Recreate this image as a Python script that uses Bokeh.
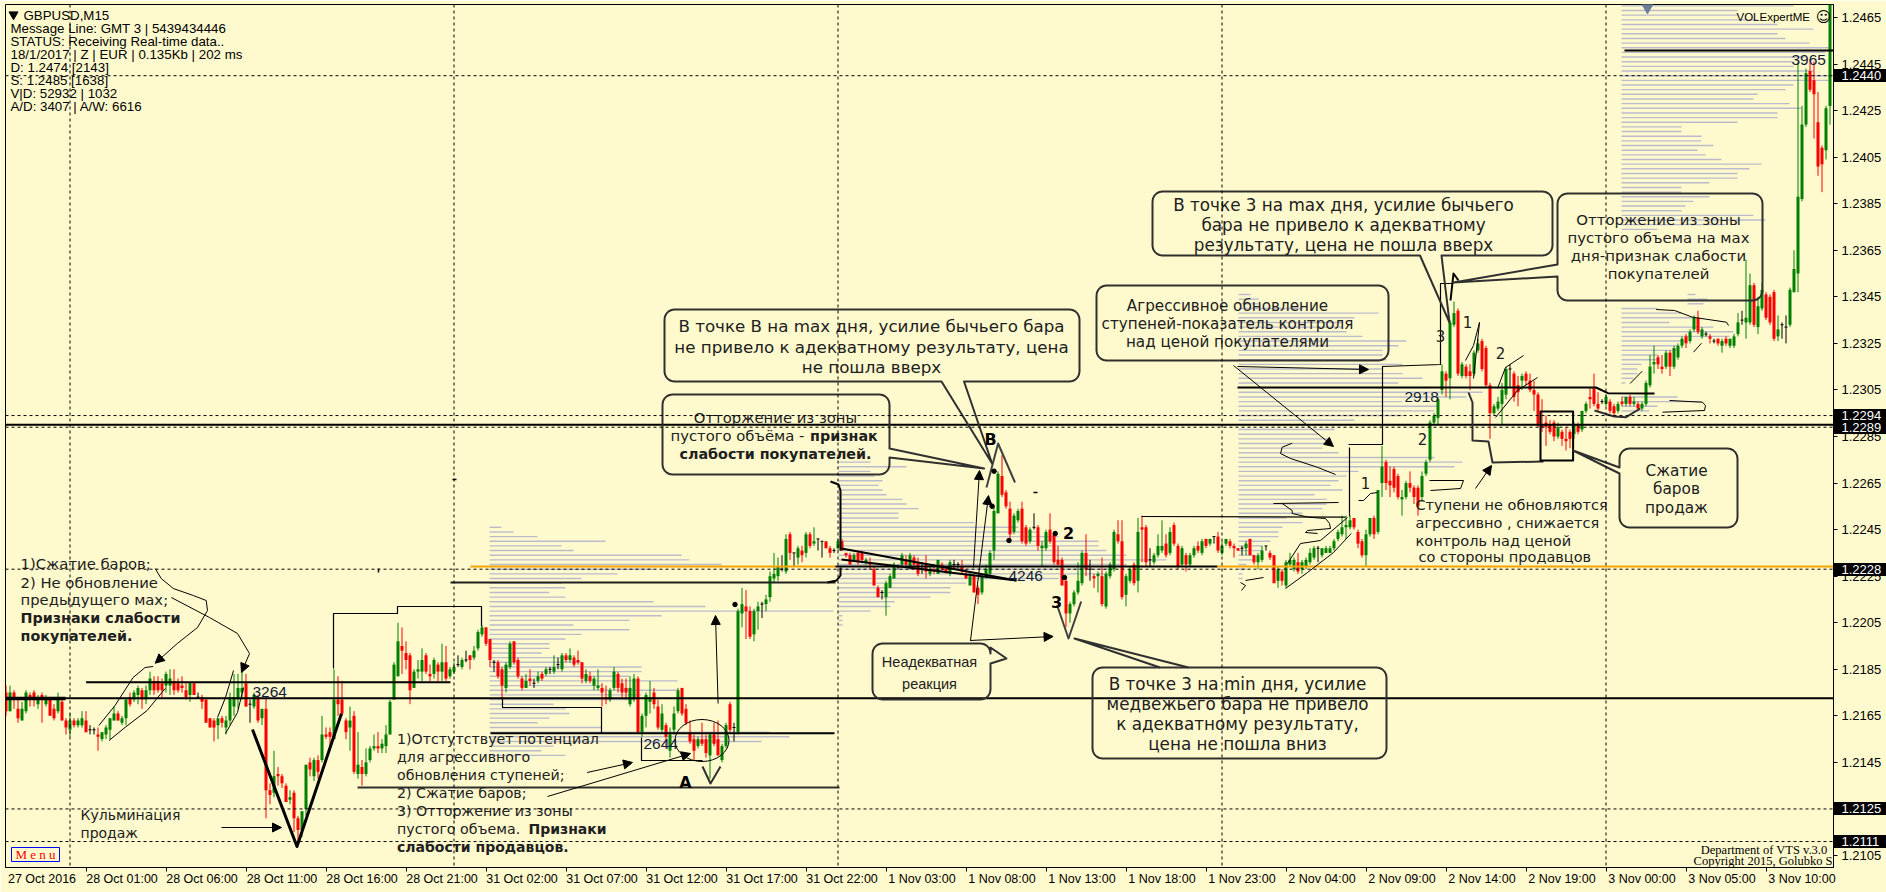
import math
from bokeh.plotting import figure
from bokeh.embed import file_html
from bokeh.resources import INLINE
from bokeh.core.properties import value
from bokeh.models import (Range1d, LinearAxis, FixedTicker, PrintfTickFormatter, Span,
                          Arrow, NormalHead)

# M15 bars, prices as 1/10000 above 1.0000 (2175 = 1.2175)
opens = [2175,2167,2175,2168,2163,2167,2174,2175,2170,2174,
2170,2172,2168,2167,2171,2163,2159,2163,2161,2161,
2163,2159,2159,2157,2155,2157,2159,2163,2166,2162,
2164,2173,2172,2174,2176,2172,2176,2180,2180,2179,
2178,2178,2180,2179,2178,2176,2174,2179,2173,2173,
2172,2164,2163,2161,2164,2160,2163,2169,2172,2175,
2179,2170,2169,2173,2164,2168,2133,2132,2140,2139,
2135,2129,2132,2121,2116,2125,2145,2139,2146,2146,
2157,2158,2155,2172,2172,2163,2160,2165,2140,2143,
2140,2146,2151,2152,2151,2152,2157,2172,2182,2195,
2192,2191,2177,2184,2184,2191,2183,2183,2187,2184,
2188,2182,2184,2187,2186,2189,2191,2190,2194,2200,
2203,2198,2188,2188,2185,2177,2186,2197,2189,2181,
2177,2181,2179,2180,2183,2183,2185,2184,2187,2185,
2191,2189,2190,2189,2188,2180,2182,2178,2177,2177,
2173,2172,2177,2183,2179,2177,2170,2172,2181,2158,
2165,2171,2175,2169,2159,2161,2150,2159,2167,2177,
2168,2158,2155,2152,2155,2155,2148,2157,2155,2146,
2152,2170,2160,2158,2209,2212,2210,2200,2210,2213,
2213,2216,2224,2225,2228,2227,2243,2235,2233,2236,
2235,2243,2239,2241,2240,2240,2237,2236,2237,2240,
2235,2234,2232,2235,2235,2231,2231,2228,2220,2218,
2216,2220,2224,2229,2230,2232,2229,2233,2231,2228,
2230,2226,2228,2226,2230,2228,2226,2230,2230,2229,
2226,2221,2225,2220,2218,2225,2226,2236,2252,2268,
2261,2254,2244,2249,2254,2246,2240,2246,2246,2237,
2237,2245,2243,2232,2232,2223,2209,2213,2218,2222,
2235,2228,2225,2225,2225,2212,2225,2228,2243,2240,
2217,2223,2230,2223,2246,2246,2232,2231,2234,2236,
2239,2235,2247,2238,2230,2234,2230,2234,2238,2235,
2241,2239,2242,2242,2235,2239,2240,2238,2237,2237,
2237,2241,2234,2231,2232,2238,2235,2234,2223,2227,
2221,2230,2228,2231,2228,2229,2231,2233,2237,2234,
2235,2235,2237,2241,2243,2246,2246,2250,2244,2240,
2234,2243,2250,2244,2265,2274,2266,2271,2268,2258,
2259,2265,2263,2263,2259,2269,2275,2291,2293,2305,
2312,2310,2333,2339,2311,2315,2313,2312,2322,2326,
2323,2307,2295,2297,2299,2303,2314,2312,2307,2309,
2312,2309,2305,2303,2290,2291,2290,2291,2285,2287,
2284,2287,2286,2290,2288,2296,2302,2306,2299,2300,
2299,2300,2298,2296,2300,2299,2302,2299,2299,2297,
2299,2307,2316,2319,2315,2315,2321,2315,2319,2324,
2328,2326,2331,2336,2328,2329,2328,2326,2327,2324,
2327,2324,2324,2329,2335,2334,2334,2350,2332,2340,
2346,2345,2347,2328,2333,2332,2333,2347,2355,2387,
2419,2442,2438,2420,2409,2408,2427]
highs = [2178,2178,2176,2172,2171,2176,2175,2176,2174,2175,
2174,2173,2170,2175,2172,2164,2166,2164,2164,2167,
2167,2161,2160,2160,2158,2161,2164,2169,2167,2165,
2172,2175,2176,2178,2177,2178,2184,2182,2182,2181,
2184,2185,2185,2181,2182,2179,2179,2179,2175,2174,
2172,2164,2164,2164,2165,2165,2175,2183,2183,2184,
2183,2172,2175,2174,2168,2173,2136,2150,2143,2140,
2136,2133,2133,2122,2124,2144,2147,2147,2148,2165,
2160,2160,2185,2182,2180,2164,2169,2167,2158,2146,
2151,2152,2157,2158,2155,2161,2172,2188,2205,2203,
2197,2192,2185,2189,2194,2192,2187,2190,2188,2196,
2195,2186,2188,2191,2190,2193,2191,2195,2202,2204,
2203,2198,2189,2189,2186,2188,2197,2197,2190,2182,
2183,2185,2181,2184,2184,2186,2186,2191,2190,2192,
2192,2194,2191,2193,2188,2185,2184,2182,2185,2179,
2178,2177,2186,2184,2181,2181,2182,2183,2182,2166,
2175,2180,2177,2172,2170,2162,2160,2169,2177,2177,
2170,2163,2157,2156,2162,2157,2158,2162,2163,2153,
2162,2171,2162,2211,2220,2219,2212,2211,2214,2214,
2217,2227,2235,2233,2234,2243,2244,2235,2238,2238,
2244,2244,2246,2241,2240,2240,2238,2237,2241,2241,
2235,2235,2235,2236,2236,2233,2233,2229,2221,2219,
2223,2226,2231,2230,2235,2234,2235,2234,2233,2231,
2234,2230,2230,2232,2231,2229,2232,2232,2231,2232,
2228,2227,2226,2221,2226,2230,2236,2255,2270,2277,
2262,2257,2252,2254,2257,2247,2246,2252,2247,2240,
2245,2252,2244,2238,2233,2224,2214,2219,2231,2236,
2243,2232,2226,2227,2233,2227,2231,2245,2249,2249,
2226,2229,2231,2250,2251,2247,2237,2235,2243,2249,
2243,2246,2248,2239,2238,2235,2235,2238,2240,2241,
2241,2241,2242,2244,2240,2241,2241,2239,2237,2238,
2240,2241,2234,2235,2238,2238,2236,2234,2229,2228,
2232,2235,2233,2235,2232,2233,2237,2238,2238,2237,
2238,2238,2241,2245,2251,2251,2251,2250,2245,2241,
2245,2250,2251,2262,2281,2275,2272,2272,2269,2262,
2266,2270,2264,2264,2270,2275,2292,2295,2302,2316,
2313,2335,2343,2340,2317,2316,2316,2322,2327,2327,
2324,2308,2299,2302,2308,2315,2316,2313,2311,2312,
2313,2312,2309,2304,2301,2294,2292,2292,2291,2288,
2289,2288,2291,2291,2296,2300,2306,2312,2304,2301,
2303,2301,2299,2300,2302,2302,2303,2302,2300,2300,
2309,2320,2324,2320,2320,2322,2322,2324,2325,2328,
2329,2331,2337,2339,2332,2330,2329,2327,2327,2327,
2328,2327,2329,2338,2339,2361,2355,2351,2345,2351,
2347,2346,2348,2337,2334,2337,2349,2365,2446,2427,
2443,2447,2446,2433,2410,2427,2472]
lows = [2165,2167,2168,2162,2163,2166,2169,2169,2168,2162,
2169,2165,2163,2166,2163,2157,2156,2160,2160,2160,
2158,2157,2157,2150,2154,2155,2155,2163,2163,2161,
2161,2169,2171,2170,2168,2170,2174,2174,2175,2173,
2175,2174,2174,2175,2175,2172,2171,2174,2173,2168,
2162,2160,2154,2155,2160,2157,2161,2165,2168,2172,
2169,2162,2168,2162,2161,2121,2127,2130,2135,2134,
2128,2127,2115,2111,2113,2122,2139,2137,2138,2145,
2155,2150,2155,2165,2165,2155,2150,2140,2138,2135,
2139,2145,2150,2149,2149,2149,2157,2172,2182,2183,
2185,2170,2177,2181,2180,2183,2180,2181,2180,2180,
2180,2181,2183,2186,2185,2188,2185,2189,2193,2199,
2195,2186,2184,2181,2172,2175,2185,2187,2181,2176,
2177,2178,2177,2179,2180,2182,2183,2183,2185,2184,
2188,2188,2186,2187,2179,2179,2179,2176,2176,2169,
2170,2171,2176,2175,2173,2172,2169,2171,2158,2156,
2160,2166,2168,2159,2158,2151,2147,2157,2166,2165,
2161,2153,2146,2151,2152,2147,2138,2152,2148,2145,
2151,2158,2154,2157,2203,2198,2198,2197,2202,2207,
2210,2214,2222,2223,2227,2226,2232,2229,2230,2231,
2233,2237,2238,2236,2233,2237,2233,2235,2236,2236,
2233,2230,2231,2230,2231,2230,2228,2221,2216,2215,
2208,2220,2224,2228,2229,2229,2228,2229,2225,2226,
2224,2225,2226,2226,2227,2226,2225,2228,2228,2226,
2224,2221,2218,2213,2217,2224,2225,2232,2252,2259,
2254,2240,2243,2248,2239,2238,2239,2245,2236,2229,
2236,2239,2230,2229,2221,2203,2205,2212,2217,2221,
2225,2223,2220,2218,2212,2211,2224,2227,2239,2215,
2212,2222,2221,2218,2231,2229,2229,2230,2233,2235,
2233,2234,2238,2228,2229,2227,2229,2233,2235,2234,
2237,2238,2239,2235,2234,2238,2237,2233,2236,2234,
2234,2234,2230,2228,2231,2236,2232,2222,2220,2221,
2220,2229,2227,2226,2226,2228,2230,2232,2231,2233,
2235,2235,2236,2240,2242,2241,2245,2245,2237,2233,
2229,2242,2241,2243,2259,2262,2259,2261,2258,2251,
2258,2261,2256,2251,2257,2268,2274,2290,2290,2303,
2302,2301,2332,2311,2310,2310,2305,2311,2321,2313,
2306,2284,2294,2296,2290,2301,2306,2300,2298,2305,
2307,2304,2296,2289,2287,2281,2286,2283,2284,2281,
2279,2280,2284,2286,2287,2295,2297,2298,2296,2299,
2298,2295,2294,2295,2298,2298,2298,2298,2296,2296,
2298,2306,2312,2314,2312,2314,2311,2314,2318,2323,
2323,2325,2330,2329,2327,2328,2325,2325,2324,2321,
2324,2323,2323,2328,2333,2327,2333,2332,2329,2339,
2335,2333,2326,2326,2327,2325,2332,2347,2347,2386,
2418,2433,2413,2397,2390,2404,2419]
closes = [2167,2175,2172,2164,2168,2175,2172,2172,2173,2172,
2173,2165,2164,2172,2163,2160,2163,2161,2163,2164,
2158,2159,2159,2156,2158,2160,2164,2166,2163,2164,
2172,2170,2175,2177,2172,2176,2181,2176,2176,2176,
2183,2181,2176,2176,2177,2173,2179,2174,2173,2171,
2162,2160,2160,2164,2162,2163,2173,2173,2177,2177,
2169,2170,2174,2163,2168,2133,2131,2139,2139,2136,
2128,2130,2121,2116,2124,2144,2142,2146,2141,2157,
2156,2156,2172,2170,2166,2158,2163,2141,2144,2140,
2145,2151,2152,2151,2153,2157,2171,2187,2197,2193,
2189,2176,2184,2185,2189,2184,2182,2189,2184,2188,
2181,2185,2186,2187,2189,2189,2189,2193,2201,2203,
2196,2189,2188,2182,2178,2187,2196,2188,2182,2177,
2180,2180,2179,2182,2181,2185,2185,2186,2187,2191,
2189,2191,2187,2188,2181,2183,2180,2181,2178,2175,
2172,2176,2184,2177,2175,2175,2177,2181,2158,2165,
2174,2173,2170,2160,2166,2156,2157,2166,2176,2166,
2162,2154,2150,2155,2153,2149,2157,2153,2148,2152,
2161,2159,2160,2210,2213,2210,2199,2210,2212,2213,
2215,2225,2226,2229,2228,2241,2235,2235,2237,2234,
2243,2238,2240,2241,2240,2237,2235,2236,2240,2236,
2234,2230,2234,2231,2232,2232,2230,2221,2216,2218,
2222,2225,2230,2229,2234,2230,2234,2230,2226,2228,
2227,2228,2227,2232,2228,2227,2231,2230,2230,2227,
2224,2225,2218,2217,2225,2228,2235,2253,2269,2260,
2255,2243,2251,2253,2240,2239,2245,2246,2238,2238,
2244,2240,2231,2230,2221,2209,2213,2218,2223,2235,
2228,2228,2224,2226,2213,2226,2230,2244,2240,2216,
2225,2228,2222,2244,2245,2231,2232,2234,2238,2238,
2234,2244,2239,2229,2237,2230,2234,2237,2236,2240,
2238,2241,2242,2236,2238,2241,2238,2237,2236,2237,
2239,2234,2231,2234,2236,2238,2233,2222,2228,2223,
2231,2232,2232,2227,2231,2232,2235,2237,2237,2237,
2237,2237,2240,2244,2246,2247,2249,2246,2239,2234,
2243,2250,2243,2262,2272,2265,2264,2263,2259,2259,
2265,2263,2259,2255,2268,2274,2291,2294,2301,2313,
2309,2334,2338,2312,2316,2311,2311,2321,2325,2314,
2307,2295,2298,2300,2305,2314,2314,2302,2304,2311,
2309,2305,2303,2290,2289,2289,2287,2285,2289,2284,
2283,2284,2290,2287,2296,2299,2301,2299,2297,2300,
2302,2296,2295,2299,2299,2302,2299,2300,2297,2299,
2308,2315,2317,2316,2314,2321,2315,2323,2324,2327,
2325,2330,2336,2330,2331,2329,2327,2326,2325,2326,
2325,2327,2328,2334,2335,2336,2350,2333,2341,2348,
2336,2334,2327,2331,2333,2332,2348,2357,2388,2419,
2441,2434,2432,2401,2402,2426,2472]

# volume profiles: one value per 2-pip level, going down from the top price
profile_a_vol = [3,6,12,29,18,21,48,50,58,41,32,23,18,19,15,19,41,54,86,43,35,21,35,23,19,15,15,13,20,23,38,38,35,47,28,47,38,36,16,19,20,15,12,28,70,75,68,16,13,19]
profile_b_vol = [8,17,8,9,11,10,11,12,16,17,20,15,15,34,45,50,55,65,65,67,72,82,72,68,68,55,32,28,28,23,14,13,8,1,1,1]
profile_c_vol = [3,5,5,16,35,29,26,26,27,31,42,40,36,36,37,41,36,41,46,40,48,61,57,41,50,49,41,29,26,24,20,23,23,21,25,49,56,54,30,27,25,23,26,19,22,22,21,16,12,16,11,10,10,8,6,6,4,4,2,2,1,1]
profile_d_vol = [43,29,29,34,39,48,39,41,47,52,51,46,43,43,48,52,52,43,41,34,33,42,45,39,39,29,15,15,20,20,23,19,21,25,35,32,29,29,22,15,15,22,18,16,15,33,36,26,9,
0,0,0,0,0,0,0,0,0,0,0,0,0,0,0,0,9,15,18,12,23,28,27,16,14,14,9,9,5,4,4,3,1,0,0,14,20,9,7]
profile_e_vol = [2,5,4]
profile_top = {"a": 2246, "b": 2274, "c": 2346, "d": 2470, "e": 2346}
profile_start_px = {"a": 489, "b": 838, "c": 1238, "d": 1621, "e": 1687}

price_ticks = [2465,2445,2425,2405,2385,2365,2345,2325,2305,2285,2265,2245,2225,2205,2185,2165,2145,2125,2105]
time_ticks = [20,40,60,80,100,120,140,160,180,200,220,240,260,280,300,320,340,360,380,400,420,440]
time_labels = ["28 Oct 01:00","28 Oct 06:00","28 Oct 11:00","28 Oct 16:00","28 Oct 21:00","31 Oct 02:00","31 Oct 07:00","31 Oct 12:00","31 Oct 17:00","31 Oct 22:00","1 Nov 03:00","1 Nov 08:00","1 Nov 13:00","1 Nov 18:00","1 Nov 23:00","2 Nov 04:00","2 Nov 09:00","2 Nov 14:00","2 Nov 19:00","3 Nov 00:00","3 Nov 05:00","3 Nov 10:00"]
day_breaks = [16,112,208,304,400]
dashed_prices = [1.2440,1.2294,1.2289,1.2228,1.2125,1.2111]
tag_prices = [1.2440,1.2294,1.2289,1.2228,1.2125,1.2111]

BG = "#FFFACD"; GREEN = "#008000"; RED = "#FF0000"; ORANGE = "#F5A300"; PROFILE = "#BABBCC"
ANN = "DejaVu Sans"; UI = "Liberation Sans"; INK = "#202020"

def X(px): return (px - 5.5) / 4
def Y(py): return 1 + (2465 - (py - 17) / 2.3278) / 1e4
def P(v): return 1 + v / 1e4

p = figure(frame_width=1828, frame_height=863, x_range=Range1d(X(5), X(1833)), y_range=Range1d(Y(867), Y(4)),
           x_axis_location=None, y_axis_location=None, toolbar_location=None,
           output_backend="svg", min_border_left=5, min_border_top=4, min_border_right=53, min_border_bottom=25,
           background_fill_color=BG, border_fill_color=BG, outline_line_color="black", outline_line_width=1)
p.grid.visible = False

# axes
ax_r = LinearAxis(ticker=FixedTicker(ticks=[P(v) for v in price_ticks]), formatter=PrintfTickFormatter(format="%.4f"),
                  major_tick_out=4, major_tick_in=0, minor_tick_out=0, minor_tick_in=0, major_label_standoff=4,
                  major_label_text_font=UI, major_label_text_font_size="13px", major_label_text_color="black",
                  axis_line_color="black", major_tick_line_color="black")
p.add_layout(ax_r, "right")
# price tags: a second right axis whose heavy ticks reach back over the first one as black plates
ax_tag = LinearAxis(ticker=FixedTicker(ticks=tag_prices), formatter=PrintfTickFormatter(format="%.4f"),
                    major_tick_out=6, major_tick_in=51, minor_tick_out=0, minor_tick_in=0, major_label_standoff=-49,
                    major_label_text_font=UI, major_label_text_font_size="13px", major_label_text_color="white",
                    axis_line_color=None, major_tick_line_color="black", major_tick_line_width=13)
p.add_layout(ax_tag, "right")
ax_t = LinearAxis(ticker=FixedTicker(ticks=time_ticks), major_tick_out=4, major_tick_in=0, minor_tick_out=0, minor_tick_in=0,
                  major_label_text_font_size="0px", major_label_standoff=0, axis_line_color="black", major_tick_line_color="black",
                  major_label_text_color=None)
p.add_layout(ax_t, "below")
lab_pos = [9] + [t + 9 for t in time_ticks]
ax_l = LinearAxis(ticker=FixedTicker(ticks=lab_pos), major_tick_out=0, major_tick_in=0, minor_tick_out=0, minor_tick_in=0,
                  axis_line_color=None, major_tick_line_color=None, major_label_standoff=0,
                  major_label_text_font=UI, major_label_text_font_size="12.5px", major_label_text_color="black",
                  major_label_overrides=dict(zip(lab_pos, ["27 Oct 2016"] + time_labels)))
p.add_layout(ax_l, "below")

# volume profiles
for key, vols in (("a", profile_a_vol), ("b", profile_b_vol), ("c", profile_c_vol), ("d", profile_d_vol), ("e", profile_e_vol)):
    x0 = X(profile_start_px[key])
    rows = [(i, v) for i, v in enumerate(vols) if v > 0]
    p.segment([x0] * len(rows), [P(profile_top[key] - 2 * i) for i, v in rows],
              [x0 + v for i, v in rows], [P(profile_top[key] - 2 * i) for i, v in rows],
              line_color=PROFILE, line_width=1.4)

# candles
n = min(len(opens), len(highs), len(lows), len(closes))
idx = list(range(n))
cols = [GREEN if closes[i] > opens[i] else RED if closes[i] < opens[i] else "black" for i in idx]
p.segment(idx, [P(v) for v in highs[:n]], idx, [P(v) for v in lows[:n]], line_color=cols, line_width=1)
bodies = [i for i in idx if closes[i] != opens[i]]
p.vbar([i for i in bodies], width=0.75, top=[P(max(opens[i], closes[i])) for i in bodies],
       bottom=[P(min(opens[i], closes[i])) for i in bodies], fill_color=[cols[i] for i in bodies], line_color=None)
dojis = [i for i in idx if closes[i] == opens[i]]
p.segment([i - 0.375 for i in dojis], [P(opens[i]) for i in dojis], [i + 0.375 for i in dojis], [P(opens[i]) for i in dojis],
          line_color="black", line_width=1)

# dashed guides
for b in day_breaks:
    p.add_layout(Span(location=b, dimension="height", line_color="black", line_width=1, line_dash="3 3"))
for v in dashed_prices:
    p.add_layout(Span(location=v, dimension="width", line_color="black", line_width=1, line_dash="3 3"))

def poly(pts, w=1.2, color="black"):
    p.line([X(a) for a, b in pts], [Y(b) for a, b in pts], line_width=w, line_color=color, line_join="round")

def arrow(x0, y0, x1, y1, size=9, w=1.0, color="black"):
    p.add_layout(Arrow(end=NormalHead(size=size, fill_color=color, line_color=color), x_start=X(x0), y_start=Y(y0),
                       x_end=X(x1), y_end=Y(y1), line_width=w, line_color=color))

def say(px, py, txt, size=14, bold=False, align="left", font=ANN, color=INK):
    p.text([X(px)], [Y(py)], text=[txt], text_font=value(font), text_font_size=f"{size}px",
           text_font_style="bold" if bold else "normal", text_align=align, text_baseline="middle", text_color=color)

def corner(cx, cy, a0, a1, r=10):
    return [(cx + r * math.cos(math.radians(a0 + (a1 - a0) * k / 5)), cy + r * math.sin(math.radians(a0 + (a1 - a0) * k / 5))) for k in range(6)]

def callout(x0, y0, x1, y1, right=(), bottom=(), left=(), r=10):
    pts = corner(x0 + r, y0 + r, 180, 270, r) + corner(x1 - r, y0 + r, 270, 360, r) + list(right)
    pts += corner(x1 - r, y1 - r, 0, 90, r) + list(bottom) + corner(x0 + r, y1 - r, 90, 180, r) + list(left)
    pts.append(pts[0])
    poly(pts, w=2, color="#303030")

# heavy levels
for (x0, x1, py, w, c) in [(5, 1833, 424.3, 2, "black"), (5, 1833, 697.7, 2, "black"), (5, 65, 698, 3.5, "black"),
                           (85.6, 450, 681.7, 2, "black"), (450, 835, 582, 2, "#202020"), (357, 839, 787, 2, "#303030"),
                           (490, 834, 732.7, 2, "black"), (470, 835, 566, 2.2, ORANGE), (835, 1217, 566, 2, "black"),
                           (1217, 1833, 566, 2.2, ORANGE), (1624, 1833, 50, 2, "black")]:
    poly([(x0, py), (x1, py)], w=w, color=c)
poly([(1237, 387), (1595.5, 387), (1607.5, 392.7), (1654, 393)], w=2)

# thin step lines
poly([(333, 668), (333, 613), (397, 613), (397, 606), (481, 606), (481, 626)])
poly([(502, 697), (502, 707), (601, 707), (601, 733)])
poly([(641, 737), (641, 760), (702, 760)])
poly([(1141, 516), (1345, 516.7)])
poly([(1349, 516), (1349, 447)])
poly([(1348, 444), (1382, 444), (1382, 366), (1440, 364), (1440, 283), (1453, 283)])

# V marks and wedges
poly([(252, 729), (296.5, 846), (341, 713)], w=3)
poly([(702, 766), (710, 783), (720, 766)], w=2, color="#303030")
poly([(986, 487), (997.6, 443), (1014.5, 482)], w=2, color="#404040")
poly([(1056.7, 605), (1068, 638), (1080.7, 601)], w=2, color="#404040")
poly([(841, 548), (1016, 580)], w=2)
poly([(841, 559), (1016, 580)], w=2)
poly([(830, 481), (838, 484), (840, 490), (840, 550)], w=2)
poly([(840, 567), (840, 575), (836, 580), (827, 582)], w=2)
poly([(1450, 300), (1453, 273), (1458, 280)], w=2)

# hand-drawn curves
for c in ([(154.7, 568), (160.7, 578), (172.8, 588), (192.8, 595), (205.7, 600), (207, 610), (197, 627), (176.8, 643)],
          [(170.8, 597), (209, 617), (237, 633), (249, 653)],
          [(98.4, 725), (114.5, 705), (132.6, 677), (144.6, 667), (152.7, 666)],
          [(108.5, 740), (124.5, 727), (146.6, 710), (164.7, 688)],
          [(217, 717), (225, 697), (233, 670)], [(225, 733), (237, 712), (243, 687)],
          [(1291.7, 442.7), (1281.7, 446.7), (1280, 453), (1290, 458), (1316.7, 466.7), (1335, 474)],
          [(1273, 503), (1338, 502)],
          [(1281.7, 503), (1291.7, 510), (1291.7, 513), (1308, 516.7), (1325, 518), (1329, 523), (1330, 528), (1307, 530), (1305, 532), (1317, 533)],
          [(1285, 588), (1307, 572), (1333, 552), (1350.7, 533)],
          [(1287, 563), (1300, 543), (1320, 540), (1347, 517)],
          [(1240, 582), (1245, 585), (1241, 590)], [(1245, 580), (1263, 577)],
          [(1358, 500), (1363, 500), (1370, 493), (1377, 492)],
          [(1429, 480), (1463, 480), (1460, 488), (1430, 490)],
          [(1669, 400), (1702, 401.7), (1705, 405), (1704, 410), (1662, 411.7)],
          [(1655.7, 309), (1674, 310), (1692, 316.7), (1726, 321.7), (1728, 325)],
          [(1629.6, 383), (1641.7, 370.7)], [(1693, 351.7), (1701, 342.7)],
          [(1465, 360), (1473, 345), (1479, 322)], [(1473, 378), (1479, 322)],
          [(1495, 417), (1517, 390), (1537, 377)], [(1497, 388), (1505, 367), (1523, 355)]):
    poly(c, w=1)
poly([(1468, 392), (1472, 402), (1472, 440), (1488, 441), (1492, 462), (1543, 461)], w=2, color="#303030")
poly([(1594, 410), (1613.6, 416), (1625.6, 416.7), (1639.7, 408)], w=2, color="#303030")
poly([(1540, 461), (1540, 411), (1572.6, 411), (1572.6, 460), (1540, 460)], w=2)
p.ellipse([X(701.5)], [Y(740)], width=13.5, height=42 / 2.3278 / 1e4, fill_color=None, line_color="black", line_width=1)

# arrows
for a in ((221, 827, 281, 827), (176.8, 643, 154.7, 662.7), (249, 653, 241, 672), (586.6, 772, 632, 762), (547, 796, 690, 753),
          (717.6, 703, 715, 615), (973, 567, 979, 470), (970, 640, 988, 495), (969.5, 640, 1052.6, 636),
          (1233, 365, 1333, 446), (1237, 366, 1368, 369), (1475, 488, 1491, 465)):
    arrow(*a)

# dots
dot_x = [734.5, 993.6, 991.6, 1008.5, 1054.7, 1064]
dot_y = [604, 470.7, 505.7, 540, 533, 577]
p.scatter([X(a) for a in dot_x], [Y(b) for b in dot_y], marker="circle", size=4.5, fill_color="black", line_color="black")
poly([(452, 479), (456, 479)], w=1.5); poly([(378, 568), (378, 572)], w=1.5); poly([(1033, 492), (1037, 492)], w=1.5)

# callouts
callout(664, 309, 1079, 381, bottom=[(963.5, 381), (991.6, 463), (941, 381)])
callout(662, 394, 889, 474, right=[(889, 448), (983.6, 468), (889, 457)])
callout(1096, 285, 1388, 360)
callout(1152, 191, 1552, 255, bottom=[(1441, 255), (1449, 322), (1419.5, 255)])
callout(1557, 193, 1762, 300, left=[(1557, 276), (1453, 282), (1557, 264)])
callout(872, 643, 990, 699, right=[(990, 647), (1006, 658), (990, 663)])
callout(1092, 667, 1386, 758)
poly([(1159.5, 667), (1074, 638), (1188, 667)], w=2, color="#303030")
callout(1619, 448, 1737, 527, left=[(1619, 473), (1572.6, 450), (1619, 467)])

# callout texts
for t, y in (("В точке В на max дня, усилие бычьего бара", 325), ("не привело к адекватному результату, цена", 346), ("не пошла вверх", 366)):
    say(871, y, t, 16.7, align="center")
say(775, 417, "Отторжение из зоны", 14.8, align="center")
say(670, 435, "пустого объёма - ", 14.8)
say(809.6, 435, "признак", 14.3, bold=True)
say(775, 453, "слабости покупателей.", 14.3, bold=True, align="center")
for t, y in (("Агрессивное обновление", 305), ("ступеней-показатель контроля", 323), ("над ценой покупателями", 341)):
    say(1227, y, t, 15.2, align="center")
for t, y in (("В точке 3 на max дня, усилие бычьего", 204), ("бара не привело к адекватному", 224), ("результату, цена не пошла вверх", 244)):
    say(1343, y, t, 16.8, align="center")
for t, y in (("Отторжение из зоны", 219), ("пустого объема на мах", 237), ("дня-признак слабости", 255), ("покупателей", 273)):
    say(1658, y, t, 14.9, align="center")
for t, y in (("Неадекватная", 661), ("реакция", 683)):
    say(929, y, t, 14.5, align="center", font=UI)
for t, y in (("В точке 3 на min дня, усилие", 683), ("медвежьего бара не привело", 703), ("к адекватному результату,", 723), ("цена не пошла вниз", 743)):
    say(1237, y, t, 16.8, align="center")
for t, y in (("Сжатие", 470), ("баров", 488), ("продаж", 507)):
    say(1676, y, t, 15.3, align="center")

# free notes
for t, y, b, s in (("1)Сжатие баров;", 563, False, 14.8), ("2) Не обновление", 582, False, 14.8), ("предыдущего мах;", 599, False, 14.8),
                   ("Признаки слабости", 617, True, 14.3), ("покупателей.", 635, True, 14.3)):
    say(20, y, t, s, bold=b)
say(80, 814, "Кульминация", 14); say(80, 832, "продаж", 14)
for t, y in (("1)Отстутствует потенциал", 738), ("для агрессивного", 756), ("обновления ступеней;", 774), ("2) Сжатие баров;", 792),
             ("3) Отторжение из зоны", 810), ("пустого объема.", 828)):
    say(396.5, y, t, 14.2)
say(528, 828, "Признаки", 14, bold=True)
say(396.5, 846, "слабости продавцов.", 14, bold=True)
for t, x, y in (("Ступени не обновляются", 1415, 504), ("агрессивно , снижается", 1415, 522), ("контроль над ценой", 1415, 540), ("со стороны продавцов", 1418, 556)):
    say(x, y, t, 14.5)

# numbers and marks
for t, x, y in (("3264", 252, 691), ("2644", 643, 743), ("4246", 1008, 575), ("2918", 1404, 396), ("3965", 1791, 59)):
    say(x, y, t, 15.5, font=UI, color="#10203A")
for t, x, y in (("В", 990, 439), ("А", 685, 782), ("2", 1068, 532), ("3", 1056, 601)):
    say(x, y, t, 16, bold=True, align="center", color="black")
for t, x, y in (("1", 1467, 321), ("2", 1500, 352), ("3", 1440, 335), ("2", 1422, 438), ("1", 1365, 482)):
    say(x, y, t, 15, align="center")

# info block
say(23, 15, "GBPUSD,M15", 13.3, font=UI, color="black")
for t, y in (("Message Line: GMT 3 | 5439434446", 28), ("STATUS:  Receiving Real-time data..", 41), ("18/1/2017 | Z | EUR | 0.135Kb | 202 ms", 54),
             ("D: 1.2474  [2143]", 67), ("S: 1.2485  [1638]", 80), ("V|D: 52932 | 1032", 93), ("A/D: 3407 | A/W: 6616", 106)):
    say(10, y, t, 13.3, font=UI, color="black")
p.scatter([X(13)], [Y(14)], marker="inverted_triangle", size=9, fill_color="black", line_color="black")
p.scatter([X(1647)], [Y(7)], marker="inverted_triangle", size=11, fill_color="#6C7C99", line_color="#6C7C99")
say(1736, 16, "VOLExpertME", 11.5, font=UI, color="black")
say(1823, 16, "☺", 15, align="center", color="black")
say(1830, 849, "Department of VTS  v.3.0", 12.5, align="right", font="Liberation Serif", color="black")
say(1832, 860, "Copyright 2015, Golubko S", 12.5, align="right", font="Liberation Serif", color="black")

# menu button
poly([(11, 847), (59, 847), (59, 861), (11, 861), (11, 847)], w=1, color="#0000FF")
say(35, 854, "M e n u", 13, align="center", font="Liberation Serif", color="#FF0000")

html = file_html(p, INLINE)
open("out.html", "w").write(html)
